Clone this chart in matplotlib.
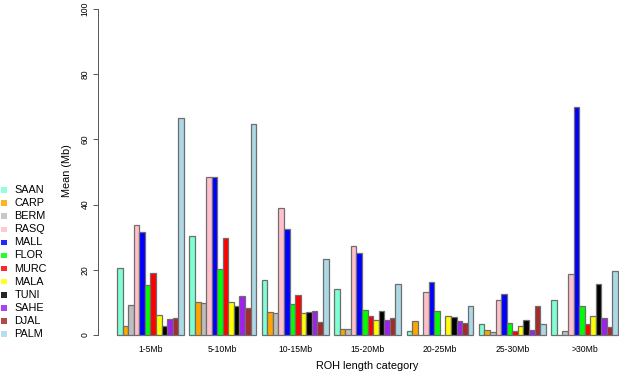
import matplotlib
matplotlib.use("Agg")
import matplotlib.pyplot as plt
from matplotlib.patches import Rectangle
import numpy as np

plt.rcParams['font.family'] = ['Liberation Sans', 'DejaVu Sans']

categories = ["1-5Mb", "5-10Mb", "10-15Mb", "15-20Mb", "20-25Mb", "25-30Mb", ">30Mb"]
populations = ["SAAN", "CARP", "BERM", "RASQ", "MALL", "FLOR", "MURC", "MALA", "TUNI", "SAHE", "DJAL", "PALM"]
colors = ["#7FFFD4", "#FFA500", "#BEBEBE", "#FFC0CB", "#0000FF", "#00FF00",
          "#FF0000", "#FFFF00", "#000000", "#A020F0", "#A52A2A", "#ADD8E6"]

# values per population, across categories
SAAN = [20.7, 30.5, 16.8, 14.0, 1.2, 3.4, 10.8]
CARP = [2.9, 10.0, 7.0, 1.9, 4.3, 1.5, 0.0]
BERM = [9.2, 9.7, 6.7, 1.9, 0.0, 0.9, 1.3]
RASQ = [33.7, 48.5, 39.1, 27.4, 13.3, 10.8, 18.8]
MALL = [31.6, 48.6, 32.5, 25.1, 16.4, 12.5, 69.8]
FLOR = [15.2, 20.1, 9.6, 7.7, 7.5, 3.7, 8.8]
MURC = [18.9, 29.9, 12.4, 5.8, 0.0, 1.1, 3.4]
MALA = [6.2, 10.2, 6.6, 4.6, 5.8, 2.9, 5.8]
TUNI = [2.8, 9.0, 7.0, 7.4, 5.5, 4.6, 15.5]
SAHE = [4.8, 12.0, 7.4, 4.6, 4.3, 1.5, 5.1]
DJAL = [5.3, 8.3, 4.1, 5.3, 3.7, 8.9, 2.6]
PALM = [66.6, 64.8, 23.2, 15.6, 8.8, 3.3, 19.6]

series = [SAAN, CARP, BERM, RASQ, MALL, FLOR, MURC, MALA, TUNI, SAHE, DJAL, PALM]
yticks = [0, 20, 40, 60, 80, 100]

W, H = 619, 373
fig = plt.figure(figsize=(W / 100, H / 100), dpi=100)
ax_left, ax_right, ax_bottom, ax_top = 97.7, 619.0, 347.0, 0.0
ax = fig.add_axes([ax_left / W, 1 - ax_bottom / H, (ax_right - ax_left) / W, (ax_bottom - ax_top) / H])

n = len(populations)
for g in range(len(categories)):
    for i in range(n):
        x = 1 + g * (n + 1) + i
        ax.bar(x + 0.5, series[i][g], width=1.0, color=colors[i],
               edgecolor="#6e6e6e", linewidth=0.9)

ax.set_xlim(-2.47, 91.17)
ax.set_ylim(-3.68, 102.76)

for s in ["top", "right", "bottom"]:
    ax.spines[s].set_visible(False)
ax.spines["left"].set_bounds(0, 100)
ax.spines["left"].set_color("#555555")
ax.spines["left"].set_linewidth(0.7)
ax.set_yticks(yticks)
ax.set_yticklabels([str(v) for v in yticks], rotation=90, va="center", fontsize=6.2)
ax.tick_params(axis="y", length=3.5, width=0.7, color="#555555", pad=2.5)
ax.set_xticks([])

for g, cat in enumerate(categories):
    cx = 1 + g * (n + 1) + n / 2
    ax.text(cx, -4.3, cat, ha="center", va="center", fontsize=6.2)

fig.text(367.5 / W, 1 - 366 / H, "ROH length category", ha="center", va="center", fontsize=7.8)
fig.text(67 / W, 1 - 171 / H, "Mean (Mb)", ha="center", va="center", rotation=90, fontsize=7.8)

# legend
for k, (name, c) in enumerate(zip(populations, colors)):
    yc = 190 + 13.1 * k
    sz = 5.5
    fig.add_artist(Rectangle(((4 - sz / 2) / W, 1 - (yc + sz / 2) / H), sz / W, sz / H,
                             transform=fig.transFigure, facecolor=c, edgecolor="none", alpha=0.85))
    fig.text(14.5 / W, 1 - yc / H, name, ha="left", va="center", fontsize=7.8)

fig.savefig("out.png", dpi=100)
